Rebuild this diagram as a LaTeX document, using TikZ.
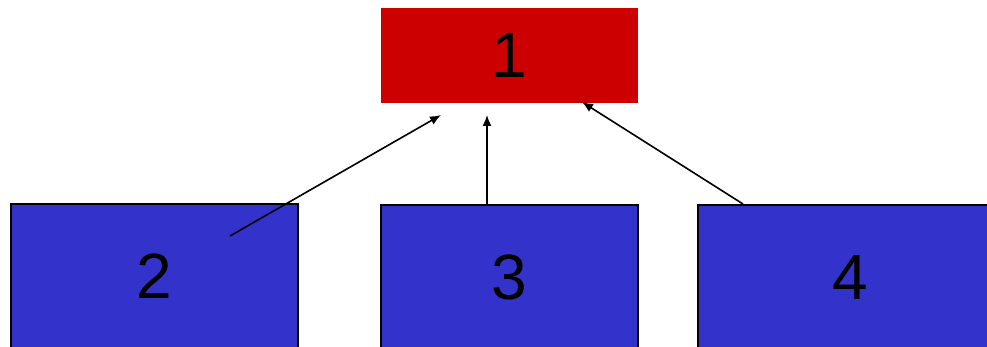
\documentclass[tikz,border=0pt]{standalone}
\usepackage{fontspec}
\setmainfont{Liberation Sans}
\usetikzlibrary{arrows.meta}
\definecolor{boxred}{RGB}{204,0,0}
\definecolor{boxblue}{RGB}{51,51,204}

\begin{document}
\begin{tikzpicture}[x=1pt, y=-1pt, >={Latex[length=11pt,width=9pt]},
		topbox/.style={fill=boxred, minimum width=257pt, minimum height=95pt, inner sep=0pt, font=\fontsize{64}{64}\selectfont},
		lowbox/.style={draw=black, line width=2pt, fill=boxblue, minimum height=144pt, inner sep=0pt, font=\fontsize{64}{64}\selectfont},
		link/.style={line width=1.6pt, ->}]
			\useasboundingbox (0,0) rectangle (987,347);
			
			\node[topbox] (one) at (509.5, 55.5) {1};
			
			\node[lowbox, minimum width=287pt] (two) at (154.5, 276) {2};
			\node[lowbox, minimum width=257pt] (three) at (509.5, 277) {3};
			\node[lowbox, minimum width=304pt] (four) at (850, 277) {4};
			
			\coordinate (twostart) at (230, 236);
			\coordinate (twoend) at (441, 115);
			\coordinate (threeend) at (487, 115);
			\coordinate (fourend) at (582, 102);
			
			\draw[link] (twostart) -- (twoend);
			\draw[link] (three.north -| threeend) -- (threeend);
			\draw[link] (four.north -| 743, 0) -- (fourend);
		\end{tikzpicture}
\end{document}
